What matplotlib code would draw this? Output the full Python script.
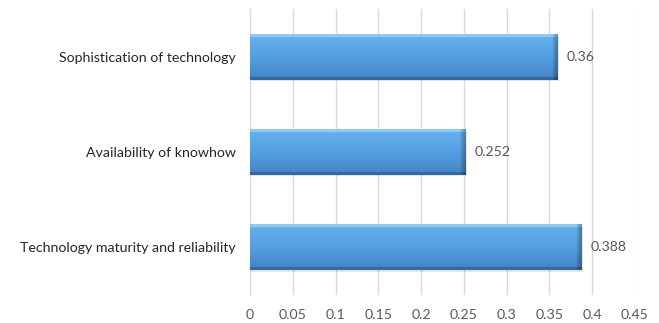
import numpy as np
import matplotlib.pyplot as plt
from matplotlib.colors import to_rgb

plt.rcParams['font.family'] = ['Lato', 'DejaVu Sans']

categories = ['Technology maturity and reliability',
              'Availability of knowhow',
              'Sophistication of technology']
values = [0.388, 0.252, 0.36]
value_labels = ['0.388', '0.252', '0.36']
xticks = [0, 0.05, 0.1, 0.15, 0.2, 0.25, 0.3, 0.35, 0.4, 0.45]
xtick_labels = ['0', '0.05', '0.1', '0.15', '0.2', '0.25', '0.3', '0.35', '0.4', '0.45']


def bar_image(w_px, h_px):
    # vertical shading: light rim on top, darker towards the bottom edge
    t = np.linspace(0, 1, h_px)
    top = np.array(to_rgb('#8ecaf4'))
    upper = np.array(to_rgb('#62b0ec'))
    mid = np.array(to_rgb('#559fe0'))
    low = np.array(to_rgb('#4487c8'))
    edge = np.array(to_rgb('#35689c'))
    img = np.zeros((h_px, w_px, 3))
    for i, v in enumerate(t):
        if v < 0.05:
            c = top
        elif v < 0.5:
            f = (v - 0.05) / 0.45
            c = upper * (1 - f) + mid * f
        elif v < 0.94:
            f = (v - 0.5) / 0.44
            c = mid * (1 - f) + low * f
        else:
            c = edge
        img[i, :, :] = c
    # bevelled right end
    bev = 5
    for j in range(bev):
        col = w_px - bev + j
        img[:, col, :] = img[:, col, :] * (0.88 - 0.04 * j)
    return img


fig = plt.figure(figsize=(6.59, 3.23), dpi=100)
ax = fig.add_axes([250 / 659, 28 / 323, 385 / 659, 286 / 323])

y = np.arange(len(categories))
height = 0.48

# soft shadow
ax.barh(y - 0.015, values, height=height, left=0.0015, color='#000000', alpha=0.10,
        linewidth=0, zorder=2)
bars = ax.barh(y, values, height=height, color='#4f9be0', linewidth=0, zorder=3)

px_per_unit = 385 / 0.45
px_per_cat = 286 / 3
for b, v in zip(bars, values):
    w_px = max(int(v * px_per_unit), 10)
    h_px = int(height * px_per_cat)
    ax.imshow(bar_image(w_px, h_px), extent=[b.get_x(), b.get_x() + b.get_width(),
                                             b.get_y(), b.get_y() + b.get_height()],
              aspect='auto', zorder=4, interpolation='bilinear')

for yi, v, lab in zip(y, values, value_labels):
    ax.text(v + 0.01, yi, lab, va='center', ha='left', fontsize=10.2, color='#595959')

ax.set_xlim(0, 0.45)
ax.set_ylim(-0.5, 2.5)
ax.set_xticks(xticks)
ax.set_xticklabels(xtick_labels)
ax.set_yticks(y)
ax.set_yticklabels(categories)
ax.grid(axis='x', color='#d9d9d9', linewidth=1, zorder=0)
ax.set_axisbelow(True)
for s in ['top', 'right', 'bottom']:
    ax.spines[s].set_visible(False)
ax.spines['left'].set_color('#d9d9d9')
ax.tick_params(axis='both', length=0, labelsize=10.2, colors='#595959')
ax.tick_params(axis='y', pad=10, labelcolor='#262626')
ax.tick_params(axis='x', pad=10)

fig.savefig('out.png', dpi=100)
